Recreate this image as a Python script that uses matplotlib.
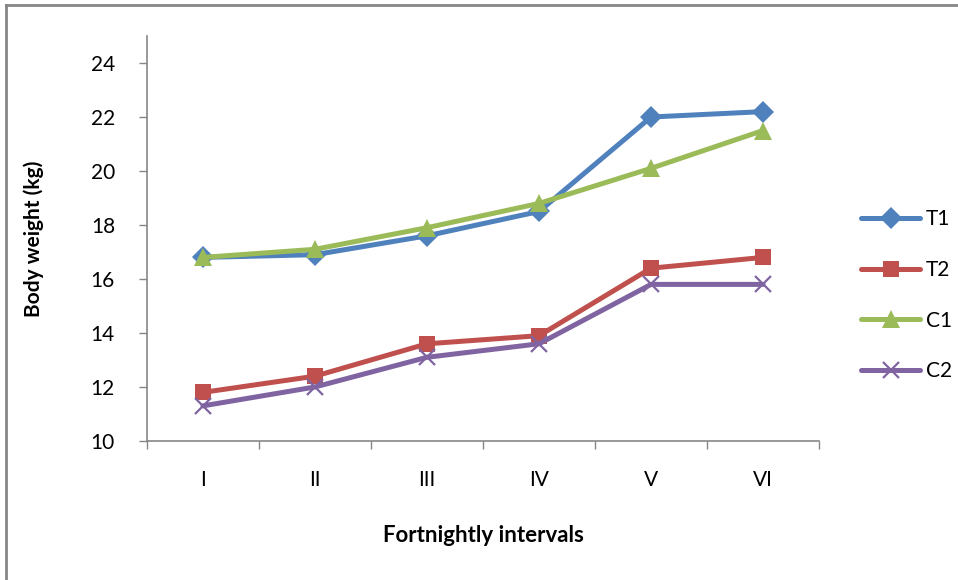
import matplotlib.pyplot as plt
import numpy as np
from matplotlib.lines import Line2D

plt.rcParams['font.family'] = ['Lato', 'DejaVu Sans']

intervals = ["I", "II", "III", "IV", "V", "VI"]
t1 = [16.8, 16.9, 17.6, 18.5, 22.0, 22.2]
t2 = [11.8, 12.4, 13.6, 13.9, 16.4, 16.8]
c1 = [16.8, 17.1, 17.9, 18.8, 20.1, 21.5]
c2 = [11.3, 12.0, 13.1, 13.6, 15.8, 15.8]

series = [
    ("T1", t1, "#4F81BD", "D", 11),
    ("T2", t2, "#C0504D", "s", 12),
    ("C1", c1, "#9BBB59", "^", 13),
    ("C2", c2, "#8064A2", "x", 12),
]

fig = plt.figure(figsize=(9.58, 5.8), dpi=100)
ax = fig.add_axes([0.1534, 0.2397, 0.7016, 0.6982])

x = np.arange(len(intervals))
for name, vals, color, marker, ms in series:
    ax.plot(x, vals, color=color, lw=3.6, marker=marker, ms=ms,
            mew=1.6 if marker == "x" else 0, mec=color, mfc=color,
            label=name, solid_capstyle="round")

ax.set_ylim(10, 25)
ax.set_yticks(range(10, 25, 2))
ax.set_xlim(-0.5, len(intervals) - 0.5)
# category boundaries carry the tick marks, labels sit at the centres
ax.set_xticks(np.arange(-0.5, len(intervals), 1.0))
ax.set_xticklabels([])
ax.set_xticks(x, minor=True)
ax.set_xticklabels(intervals, minor=True)
ax.tick_params(axis="x", which="minor", length=0, pad=21, labelsize=15)
ax.tick_params(axis="x", which="major", length=6, color="#868686", width=1)
ax.tick_params(axis="y", length=6, color="#868686", width=1, labelsize=15, pad=17)

for side in ("top", "right"):
    ax.spines[side].set_visible(False)
for side in ("left", "bottom"):
    ax.spines[side].set_color("#868686")
    ax.spines[side].set_linewidth(1.2)

ax.set_ylabel("Body weight (kg)", fontsize=15, fontweight="bold", labelpad=34)
ax.set_xlabel("Fortnightly intervals", fontsize=16, fontweight="bold", labelpad=25)

ax.legend(loc="center left", bbox_to_anchor=(1.035, 0.36), frameon=False,
          fontsize=15, handlelength=2.8, labelspacing=1.47, handletextpad=0.3)

# outer chart frame
fig.add_artist(Line2D([0.006, 0.006], [0, 0.992], color="#868686", lw=2,
                      transform=fig.transFigure))
fig.add_artist(Line2D([0.006, 1], [0.992, 0.992], color="#868686", lw=2,
                      transform=fig.transFigure))

fig.savefig("out.png", dpi=100)
